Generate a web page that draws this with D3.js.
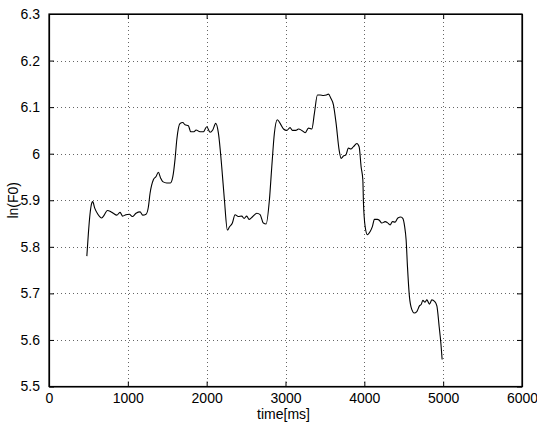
<!DOCTYPE html>
<html>
<head>
<meta charset="utf-8">
<script src="https://cdn.jsdelivr.net/npm/d3@7"></script>
<style>
  body { margin: 0; background: #fff; }
  svg { display: block; }
  text { font-family: "Liberation Sans", Arial, Helvetica, sans-serif; fill: #000; }
</style>
</head>
<body>
<div id="chart"></div>
<script>
// ln(F0) contour
var timeMs = [480, 500, 520, 545, 555, 580, 620, 668, 700, 740, 780, 816, 860, 901, 935, 975,
  1019, 1057, 1104, 1155, 1189, 1231, 1260, 1282, 1324, 1358, 1387, 1415, 1443, 1494, 1540, 1570,
  1600, 1621, 1662, 1697, 1726, 1768, 1798, 1840, 1865, 1916, 1958, 2001, 2043, 2077, 2115, 2149,
  2191, 2225, 2263, 2290, 2326, 2360, 2402, 2445, 2475, 2508, 2538, 2585, 2636, 2678, 2719, 2754,
  2796, 2826, 2859, 2897, 2932, 2975, 3016, 3058, 3088, 3131, 3164, 3207, 3249, 3291, 3334, 3367,
  3405, 3439, 3481, 3520, 3545, 3575, 3608, 3642, 3680, 3706, 3735, 3765, 3798, 3828, 3862, 3905,
  3934, 3959, 3981, 3989, 4010, 4039, 4074, 4103, 4128, 4166, 4190, 4222, 4264, 4292, 4327, 4357,
  4391, 4425, 4463, 4488, 4510, 4530, 4547, 4572, 4603, 4632, 4666, 4699, 4721, 4742, 4770, 4793,
  4826, 4857, 4890, 4920, 4949, 4971, 4987];
var lnF0 = [5.780, 5.830, 5.870, 5.895, 5.897, 5.883, 5.870, 5.862, 5.868, 5.878, 5.876, 5.872, 5.868, 5.874, 5.866, 5.869,
  5.870, 5.865, 5.872, 5.875, 5.868, 5.870, 5.885, 5.915, 5.944, 5.951, 5.960, 5.948, 5.940, 5.937, 5.937, 5.950,
  5.990, 6.030, 6.065, 6.067, 6.062, 6.060, 6.047, 6.047, 6.051, 6.047, 6.047, 6.058, 6.046, 6.051, 6.065, 6.044,
  5.972, 5.901, 5.836, 5.843, 5.851, 5.869, 5.865, 5.866, 5.861, 5.866, 5.859, 5.865, 5.872, 5.869, 5.851, 5.849,
  5.901, 5.972, 6.044, 6.073, 6.065, 6.053, 6.050, 6.056, 6.050, 6.050, 6.053, 6.050, 6.045, 6.055, 6.053, 6.087,
  6.126, 6.126, 6.125, 6.126, 6.128, 6.119, 6.105, 6.065, 6.008, 5.990, 5.995, 5.997, 6.012, 6.010, 6.015, 6.022,
  6.015, 5.972, 5.944, 5.894, 5.844, 5.826, 5.833, 5.844, 5.859, 5.859, 5.857, 5.851, 5.854, 5.852, 5.847, 5.854,
  5.853, 5.862, 5.864, 5.861, 5.845, 5.815, 5.758, 5.693, 5.665, 5.658, 5.661, 5.673, 5.676, 5.685, 5.681, 5.686,
  5.677, 5.686, 5.683, 5.673, 5.629, 5.593, 5.558];
var xTicks = [0, 1000, 2000, 3000, 4000, 5000, 6000];
var yTicks = [5.5, 5.6, 5.7, 5.8, 5.9, 6, 6.1, 6.2, 6.3];

var WIDTH = 537;
var HEIGHT = 424;
var PLOT = { left: 49, right: 522, top: 14, bottom: 386.5 };
var TICK_LEN = 5;
var FONT_SIZE = 14;

var svg = d3.select('#chart').append('svg')
  .attr('width', WIDTH)
  .attr('height', HEIGHT);

var x = d3.scaleLinear().domain([0, 6000]).range([PLOT.left, PLOT.right]);
var y = d3.scaleLinear().domain([5.5, 6.3]).range([PLOT.bottom, PLOT.top]);

// dotted grid
var grid = svg.append('g')
  .attr('stroke', '#666')
  .attr('stroke-width', 1)
  .attr('stroke-dasharray', '1,3');
grid.selectAll('.gx').data(xTicks.slice(1, -1)).enter().append('line')
  .attr('x1', function (d) { return Math.round(x(d)) + 0.5; })
  .attr('x2', function (d) { return Math.round(x(d)) + 0.5; })
  .attr('y1', PLOT.top).attr('y2', PLOT.bottom);
grid.selectAll('.gy').data(yTicks.slice(1, -1)).enter().append('line')
  .attr('y1', function (d) { return Math.round(y(d)) + 0.5; })
  .attr('y2', function (d) { return Math.round(y(d)) + 0.5; })
  .attr('x1', PLOT.left).attr('x2', PLOT.right);

// the curve
var line = d3.line()
  .x(function (d) { return x(d[0]); })
  .y(function (d) { return y(d[1]); })
  .curve(d3.curveMonotoneX);
svg.append('path')
  .datum(d3.zip(timeMs, lnF0))
  .attr('fill', 'none')
  .attr('stroke', '#000')
  .attr('stroke-width', 1.1)
  .attr('d', line);

// axes (ticks pointing inward, box on)
var fmtY = function (d) { return String(+d.toFixed(1)); };
svg.append('g')
  .attr('transform', 'translate(0,' + PLOT.bottom + ')')
  .call(d3.axisBottom(x).tickValues(xTicks).tickFormat(d3.format('d'))
    .tickSizeInner(-TICK_LEN).tickSizeOuter(0).tickPadding(7));
svg.append('g')
  .attr('transform', 'translate(' + PLOT.left + ',0)')
  .call(d3.axisLeft(y).tickValues(yTicks).tickFormat(fmtY)
    .tickSizeInner(-TICK_LEN).tickSizeOuter(0).tickPadding(9));
svg.append('g')
  .attr('transform', 'translate(0,' + PLOT.top + ')')
  .call(d3.axisTop(x).tickValues(xTicks).tickSizeInner(-TICK_LEN).tickSizeOuter(0).tickFormat(''));
svg.append('g')
  .attr('transform', 'translate(' + PLOT.right + ',0)')
  .call(d3.axisRight(y).tickValues(yTicks).tickSizeInner(-TICK_LEN).tickSizeOuter(0).tickFormat(''));

svg.selectAll('.tick text')
  .style('font-size', FONT_SIZE + 'px')
  .style('font-family', '"Liberation Sans", Arial, sans-serif');
svg.selectAll('.domain').attr('stroke', '#000').attr('stroke-width', 1.2);

svg.append('rect')
  .attr('x', PLOT.left).attr('y', PLOT.top)
  .attr('width', PLOT.right - PLOT.left).attr('height', PLOT.bottom - PLOT.top)
  .attr('fill', 'none').attr('stroke', '#000').attr('stroke-width', 1.2);

// axis titles
svg.append('text')
  .attr('x', x(3000) - 2)
  .attr('y', 419)
  .attr('text-anchor', 'middle')
  .style('font-size', FONT_SIZE + 'px')
  .text('time[ms]');
svg.append('text')
  .attr('transform', 'translate(18,' + y(5.9) + ') rotate(-90)')
  .attr('text-anchor', 'middle')
  .style('font-size', FONT_SIZE + 'px')
  .text('ln(F0)');
</script>
</body>
</html>
